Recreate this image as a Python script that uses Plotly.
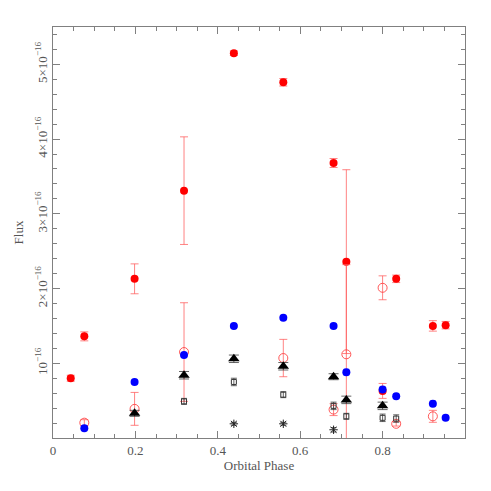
import plotly.graph_objects as go

SCALE = 1e-16

# Red filled circles
rf_x = [0.043, 0.076, 0.198, 0.318, 0.439, 0.559, 0.681, 0.712, 0.800, 0.833, 0.922, 0.953]
rf_y = [0.80, 1.36, 2.13, 3.31, 5.15, 4.76, 3.68, 2.36, 0.63, 2.13, 1.50, 1.51]
rf_e = [0.04, 0.06, 0.20, 0.72, 0.03, 0.05, 0.06, 1.23, 0.10, 0.05, 0.07, 0.05]

# Red open circles
ro_x = [0.076, 0.198, 0.318, 0.559, 0.681, 0.712, 0.800, 0.833, 0.922]
ro_y = [0.205, 0.39, 1.15, 1.07, 0.38, 1.12, 2.01, 0.19, 0.29]
ro_e = [0.04, 0.22, 0.66, 0.25, 0.08, 1.20, 0.16, 0.03, 0.08]

# Blue filled circles
b_x = [0.076, 0.198, 0.318, 0.439, 0.559, 0.681, 0.712, 0.800, 0.833, 0.922, 0.953]
b_y = [0.13, 0.75, 1.11, 1.50, 1.61, 1.50, 0.88, 0.65, 0.56, 0.46, 0.27]
b_e = [0.02, 0.03, 0.03, 0.03, 0.03, 0.03, 0.04, 0.04, 0.03, 0.04, 0.03]

# Black triangles
t_x = [0.198, 0.318, 0.439, 0.559, 0.681, 0.712, 0.800]
t_y = [0.33, 0.84, 1.06, 0.96, 0.82, 0.51, 0.43]
t_e = [0.04, 0.05, 0.05, 0.05, 0.04, 0.05, 0.05]

# Black open squares
s_x = [0.318, 0.439, 0.559, 0.681, 0.712, 0.800, 0.833]
s_y = [0.49, 0.75, 0.58, 0.43, 0.29, 0.27, 0.26]
s_e = [0.04, 0.05, 0.04, 0.05, 0.04, 0.05, 0.05]

# Asterisks
a_x = [0.439, 0.559, 0.681]
a_y = [0.19, 0.19, 0.11]
a_e = [0.02, 0.02, 0.03]

x_ticks = [0, 0.2, 0.4, 0.6, 0.8]
x_labels = ["0", "0.2", "0.4", "0.6", "0.8"]
y_ticks = [1, 2, 3, 4, 5]
y_labels = ["10<sup>−16</sup>", "2×10<sup>−16</sup>", "3×10<sup>−16</sup>",
            "4×10<sup>−16</sup>", "5×10<sup>−16</sup>"]

FONT = "Liberation Serif, DejaVu Serif, serif"


def sc(v):
    return [a * SCALE for a in v]


fig = go.Figure()

fig.add_trace(go.Scatter(
    x=rf_x, y=sc(rf_y), mode="markers",
    marker=dict(symbol="circle", size=8, color="#ff0000"),
    error_y=dict(type="data", array=sc(rf_e), color="rgba(255,90,90,0.75)", thickness=1, width=4),
))
fig.add_trace(go.Scatter(
    x=ro_x, y=sc(ro_y), mode="markers",
    marker=dict(symbol="circle-open", size=9, color="rgba(255,60,60,0.85)", line=dict(width=1)),
    error_y=dict(type="data", array=sc(ro_e), color="rgba(255,90,90,0.75)", thickness=1, width=4),
))
fig.add_trace(go.Scatter(
    x=b_x, y=sc(b_y), mode="markers",
    marker=dict(symbol="circle", size=8, color="#0000ff"),
    error_y=dict(type="data", array=sc(b_e), color="rgba(120,120,255,0.6)", thickness=1, width=3),
))
fig.add_trace(go.Scatter(
    x=t_x, y=sc(t_y), mode="markers",
    marker=dict(symbol="triangle-up", size=10, color="#000000"),
    error_y=dict(type="data", array=sc(t_e), color="rgba(60,60,60,0.8)", thickness=1, width=5),
))
fig.add_trace(go.Scatter(
    x=s_x, y=sc(s_y), mode="markers",
    marker=dict(symbol="square-open", size=5, color="#333333", line=dict(width=1)),
    error_y=dict(type="data", array=sc(s_e), color="rgba(60,60,60,0.8)", thickness=1, width=3),
))
fig.add_trace(go.Scatter(
    x=a_x, y=sc(a_y), mode="markers",
    marker=dict(symbol="asterisk-open", size=7, color="#222222", line=dict(width=1, color="#222222")),
    error_y=dict(type="data", array=sc(a_e), color="rgba(60,60,60,0.8)", thickness=1, width=3),
))

axis_common = dict(
    showgrid=False, zeroline=False, showline=True, linecolor="#808080", linewidth=1,
    mirror="allticks", ticks="inside", tickcolor="#808080", tickwidth=1, ticklen=7,
    tickfont=dict(family=FONT, size=13, color="#555555"), automargin=False,
)

fig.update_xaxes(
    **axis_common, range=[0, 1], tickvals=x_ticks, ticktext=x_labels,
    minor=dict(dtick=0.05, ticks="inside", ticklen=4, tickcolor="#808080", showgrid=False),
    title=dict(text="Orbital Phase", font=dict(family=FONT, size=13, color="#555555"), standoff=2),
)
fig.update_yaxes(
    **axis_common, range=[0, 5.5 * SCALE], tickvals=sc(y_ticks), ticktext=y_labels, tickangle=-90,
    minor=dict(dtick=0.2 * SCALE, ticks="inside", ticklen=4, tickcolor="#808080", showgrid=False),
    title=dict(text="Flux", font=dict(family=FONT, size=13, color="#555555"), standoff=6),
)

fig.update_layout(
    width=483, height=483, showlegend=False,
    margin=dict(l=45, r=26, t=19, b=53),
    plot_bgcolor="white", paper_bgcolor="white",
)

fig.write_html("out.html")
